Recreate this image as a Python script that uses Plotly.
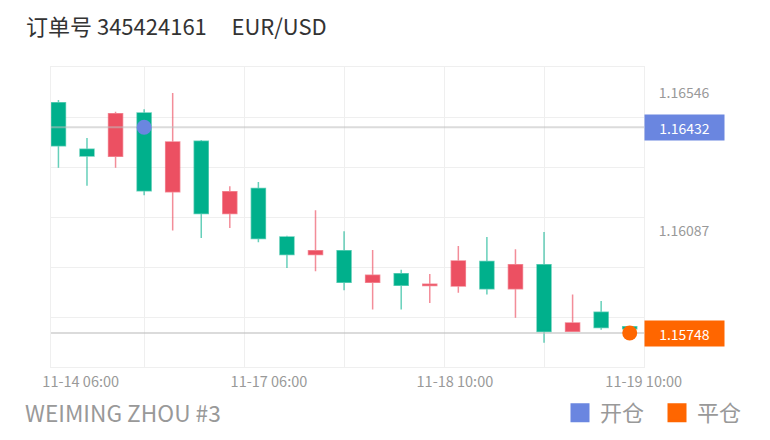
import plotly.graph_objects as go

# ---------------- data ----------------
title_order = "订单号 345424161"
title_symbol = "EUR/USD"
footer_text = "WEIMING ZHOU #3"

candle_index = list(range(21))
open_ = [1.16513, 1.16359, 1.16335, 1.16479, 1.16217, 1.16385, 1.16145, 1.16228, 1.16067, 1.16009,
         1.16021, 1.15917, 1.15945, 1.15906, 1.15904, 1.15986, 1.15895, 1.15975, 1.15754, 1.15817, 1.15769]
high = [1.16522, 1.16396, 1.16483, 1.16492, 1.16546, 1.16389, 1.16236, 1.16250, 1.16071, 1.16156,
        1.16086, 1.16024, 1.15958, 1.15944, 1.16037, 1.16067, 1.16026, 1.16084, 1.15876, 1.15854, 1.15770]
low = [1.16297, 1.16237, 1.16297, 1.16206, 1.16089, 1.16064, 1.16097, 1.16050, 1.15964, 1.15953,
       1.15890, 1.15826, 1.15826, 1.15848, 1.15882, 1.15876, 1.15799, 1.15716, 1.15753, 1.15759, 1.15760]
close = [1.16370, 1.16336, 1.16477, 1.16221, 1.16383, 1.16145, 1.16217, 1.16062, 1.16009, 1.16021,
         1.15917, 1.15940, 1.15907, 1.15910, 1.15987, 1.15895, 1.15975, 1.15753, 1.15781, 1.15766, 1.15762]

x_tick_labels = ["11-14 06:00", "11-17 06:00", "11-18 10:00", "11-19 10:00"]
x_tick_pos = [0.78, 7.37, 13.88, 20.49]
y_tick_vals = [1.16546, 1.16087]

open_name = "开仓"
open_idx = 3
open_price = 1.16432
close_name = "平仓"
close_idx = 20
close_price = 1.15748

# ---------------- style ----------------
FONT = "Noto Sans CJK SC"
GREEN = "#00b08c"
RED = "#ec5062"
BLUE = "#6a86e0"
ORANGE = "#ff6600"
GRID = "#efefef"
X_RANGE = [-0.26, 20.5]
Y_RANGE = [1.15635, 1.16632]
Y_GRID_STEP = (Y_RANGE[1] - Y_RANGE[0]) / 6
W, H = 762, 432  # page body has an 8px margin

fig = go.Figure()

fig.add_trace(go.Candlestick(
    x=candle_index, open=open_, high=high, low=low, close=close,
    increasing=dict(fillcolor=RED, line=dict(color="rgba(236,80,98,0.65)", width=1.5)),
    decreasing=dict(fillcolor=GREEN, line=dict(color="rgba(0,176,140,0.6)", width=1.5)),
    showlegend=False, hoverinfo="skip",
))

# price lines (above candles, below markers)
for p in [open_price, close_price]:
    fig.add_trace(go.Scatter(
        x=X_RANGE, y=[p, p], mode="lines", line=dict(color="rgba(190,190,190,0.55)", width=2),
        showlegend=False, hoverinfo="skip", cliponaxis=False))

# open / close markers (overlay axes so they sit above candles)
fig.add_trace(go.Scatter(
    x=[open_idx], y=[open_price], mode="markers", xaxis="x2", yaxis="y2",
    marker=dict(color=BLUE, size=15), showlegend=False, hoverinfo="skip"))
fig.add_trace(go.Scatter(
    x=[close_idx], y=[close_price], mode="markers", xaxis="x2", yaxis="y2",
    marker=dict(color=ORANGE, size=15), showlegend=False, hoverinfo="skip"))

# legend entries
for nm, col in [(open_name, BLUE), (close_name, ORANGE)]:
    fig.add_trace(go.Scatter(
        x=[None], y=[None], mode="markers", name=nm,
        marker=dict(symbol="square", size=16, color=col, line=dict(width=3, color=col))))

# price label boxes
for p, col in [(open_price, BLUE), (close_price, ORANGE)]:
    fig.add_annotation(xref="paper", x=1, xanchor="left", yref="y", y=p, yanchor="middle",
                       text=f"{p:.5f}", showarrow=False, bgcolor=col, width=75, height=21,
                       borderpad=2, align="center",
                       font=dict(family=FONT, size=14, color="white"))

fig.add_annotation(xref="paper", yref="paper", x=-0.047, y=-0.1533,
                   xanchor="left", yanchor="middle",
                   text=footer_text, showarrow=False,
                   font=dict(family=FONT, size=22.7, color="#999999"))

fig.update_layout(
    width=W, height=H,
    margin=dict(l=43, r=126, t=59, b=73, autoexpand=False),
    paper_bgcolor="white", plot_bgcolor="white",
    font=dict(family=FONT, color="#999999"),
    title=dict(text=title_order + "\u00a0" * 5 + title_symbol, xref="container", x=18 / W,
               xanchor="left", y=1 - 19 / H, yanchor="middle",
               font=dict(family=FONT, size=22, color="#333333")),
    showlegend=True,
    legend=dict(orientation="h", xref="container", x=552 / W, xanchor="left",
                yref="container", y=1 - 405 / H, yanchor="middle",
                font=dict(family=FONT, size=22, color="#999999"),
                entrywidth=52, entrywidthmode="pixels",
                bgcolor="rgba(0,0,0,0)", itemclick=False, itemdoubleclick=False),
    xaxis=dict(range=X_RANGE, tickmode="array", tickvals=x_tick_pos, ticktext=x_tick_labels,
               showgrid=False, zeroline=False, ticks="", rangeslider=dict(visible=False),
               ticklabelstandoff=2,
               tickfont=dict(family=FONT, size=14.5, color="#999999"),
               showline=True, linecolor=GRID, linewidth=1, mirror=True, fixedrange=True),
    yaxis=dict(range=Y_RANGE, side="right", tickmode="array", tickvals=y_tick_vals,
               tickformat=".5f", showgrid=False, zeroline=False, ticks="", ticklabelstandoff=11,
               tickfont=dict(family=FONT, size=14, color="#999999"),
               showline=True, linecolor=GRID, linewidth=1, mirror=True, fixedrange=True),
    xaxis2=dict(range=X_RANGE, overlaying="x", tick0=3, dtick=3.5, showgrid=True, gridcolor=GRID,
                gridwidth=1, showticklabels=False, zeroline=False, ticks="", fixedrange=True),
    yaxis2=dict(range=Y_RANGE, overlaying="y", side="right", tick0=Y_RANGE[0], dtick=Y_GRID_STEP,
                showgrid=True, gridcolor=GRID, gridwidth=1, showticklabels=False, zeroline=False,
                ticks="", fixedrange=True),
)

fig.write_html("out.html")
